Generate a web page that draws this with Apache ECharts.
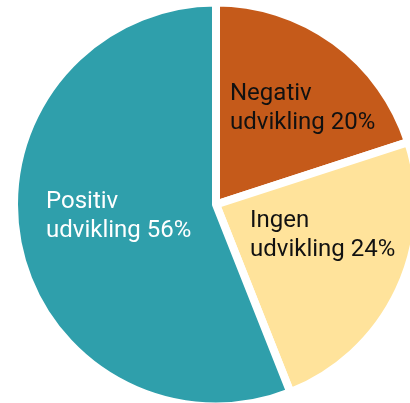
<!DOCTYPE html>
<html>
<head>
<meta charset="utf-8">
<style>html,body{margin:0;padding:0;background:#fff}#c{width:410px;height:403px}</style>
<script src="https://cdn.jsdelivr.net/npm/echarts@6/dist/echarts.min.js"></script>
</head>
<body>
<div id="c"></div>
<script>
var categories = ['Negativ udvikling', 'Ingen udvikling', 'Positiv udvikling'];
var values = [20, 24, 56];
var colors = ['#C55A1A', '#FFE39B', '#2F9FAB'];
var labelColors = ['#111111', '#111111', '#FFFFFF'];
var labelPos = [[230, 108], [250, 235], [46, 216]];

var chart = echarts.init(document.getElementById('c'), null, {renderer: 'canvas'});
chart.setOption({
  animation: false,
  series: [{
    type: 'pie',
    center: [216, 204.5],
    radius: [0, 202],
    startAngle: 90,
    clockwise: true,
    itemStyle: {borderColor: '#ffffff', borderWidth: 8},
    label: {
      show: true,
      position: 'inside',
      fontFamily: 'Roboto',
      fontSize: 24,
      lineHeight: 29,
      align: 'left',
      formatter: function (p) {
        var parts = p.name.split(' ');
        return parts[0] + '\n' + parts[1] + ' ' + p.value + '%';
      }
    },
    labelLine: {show: false},
    labelLayout: function (p) {
      var pos = labelPos[p.dataIndex];
      return {x: pos[0], y: pos[1], align: 'left', verticalAlign: 'middle'};
    },
    emphasis: {disabled: true},
    data: categories.map(function (c, i) {
      return {name: c, value: values[i], itemStyle: {color: colors[i]}, label: {color: labelColors[i]}};
    })
  }]
});
</script>
</body>
</html>
